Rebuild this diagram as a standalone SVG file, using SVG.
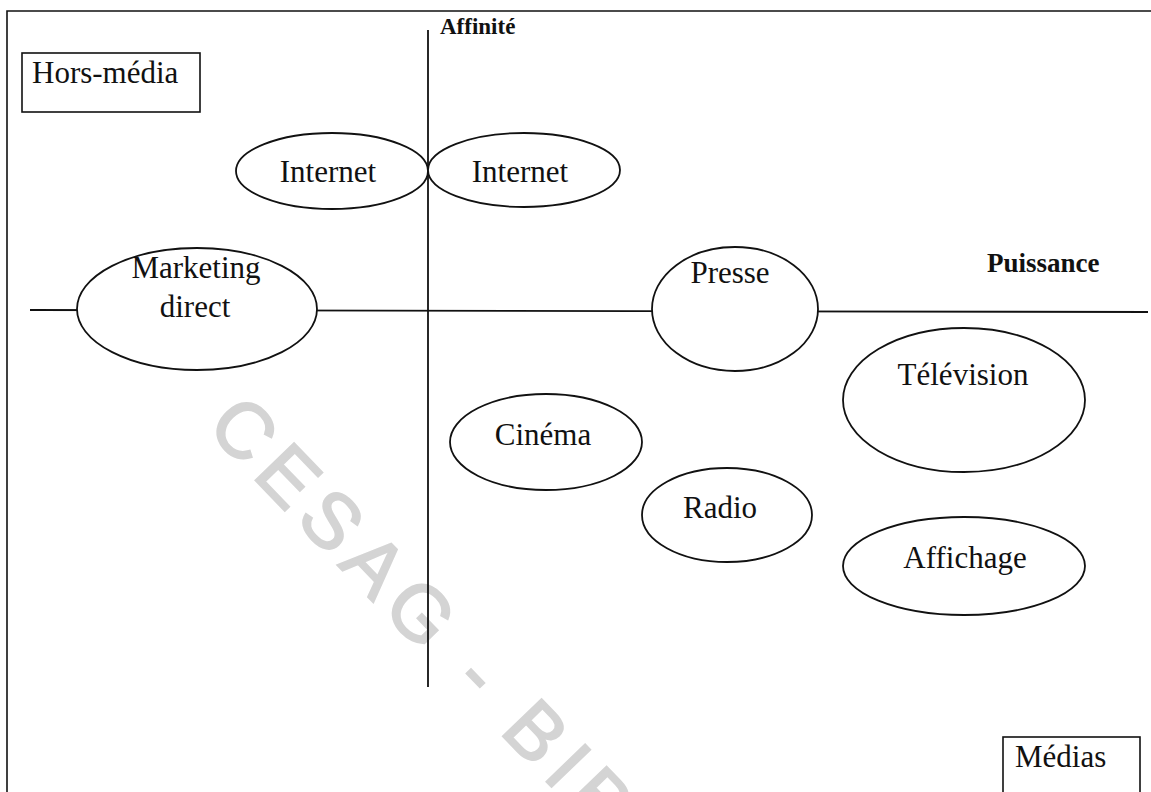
<svg xmlns="http://www.w3.org/2000/svg" width="1151" height="792" viewBox="0 0 1151 792">
  <style>
    .frame { fill: none; stroke: #111; stroke-width: 1.6; }
    .axis { fill: none; stroke: #111; stroke-width: 1.8; }
    .node ellipse { fill: #fff; stroke: #111; stroke-width: 1.8; }
    .box rect { fill: #fff; stroke: #111; stroke-width: 1.6; }
    .lbl { font-family: "Liberation Serif", "Times New Roman", serif; font-size: 31px; fill: #111; }
    .mid { text-anchor: middle; }
    .axislbl { font-family: "Liberation Serif", "Times New Roman", serif; font-weight: bold; fill: #111; }
    .mark { font-family: "Liberation Sans", Arial, sans-serif; font-size: 78px; fill: #d4d4d4; stroke: #d4d4d4; stroke-width: 2; letter-spacing: 10px; }
  </style>

  <rect width="1151" height="792" fill="#fff"/>

  <!-- watermark -->
  <text class="mark" transform="translate(205,428) rotate(46)">CESAG - BIB</text>

  <!-- outer frame (top and left edges) -->
  <path class="frame" d="M7,792 V11 H1151"/>

  <!-- axes -->
  <g id="connectors">
    <line class="axis" x1="30" y1="310" x2="1148" y2="312"/>
    <line class="axis" x1="428" y1="30" x2="428" y2="687"/>
  </g>

  <!-- axis labels -->
  <text class="axislbl" x="440" y="34" font-size="23">Affinité</text>
  <text class="axislbl" x="987" y="272" font-size="27">Puissance</text>

  <!-- corner boxes -->
  <g id="hors-media" class="box">
    <rect x="22" y="53" width="178" height="59"/>
    <text class="lbl" x="32" y="83">Hors-média</text>
  </g>
  <g id="medias" class="box">
    <rect x="1003" y="737" width="137" height="70"/>
    <text class="lbl" x="1015" y="767">Médias</text>
  </g>

  <!-- media nodes -->
  <g id="internet-hors-media" class="node">
    <ellipse cx="332" cy="171" rx="96" ry="38"/>
    <text class="lbl mid" x="328" y="182">Internet</text>
  </g>
  <g id="internet-media" class="node">
    <ellipse cx="524" cy="170" rx="96" ry="37"/>
    <text class="lbl mid" x="520" y="182">Internet</text>
  </g>
  <g id="marketing-direct" class="node">
    <ellipse cx="197" cy="309" rx="120" ry="61"/>
    <text class="lbl mid" x="196" y="278">Marketing</text>
    <text class="lbl mid" x="195" y="317">direct</text>
  </g>
  <g id="presse" class="node">
    <ellipse cx="735" cy="309" rx="83" ry="62"/>
    <text class="lbl mid" x="730" y="283">Presse</text>
  </g>
  <g id="television" class="node">
    <ellipse cx="964" cy="400" rx="121" ry="72"/>
    <text class="lbl mid" x="963" y="385">Télévision</text>
  </g>
  <g id="cinema" class="node">
    <ellipse cx="546" cy="442" rx="96" ry="48"/>
    <text class="lbl mid" x="543" y="445">Cinéma</text>
  </g>
  <g id="radio" class="node">
    <ellipse cx="727" cy="515" rx="85" ry="47"/>
    <text class="lbl mid" x="720" y="518">Radio</text>
  </g>
  <g id="affichage" class="node">
    <ellipse cx="964" cy="566" rx="121" ry="49"/>
    <text class="lbl mid" x="965" y="568">Affichage</text>
  </g>
</svg>
